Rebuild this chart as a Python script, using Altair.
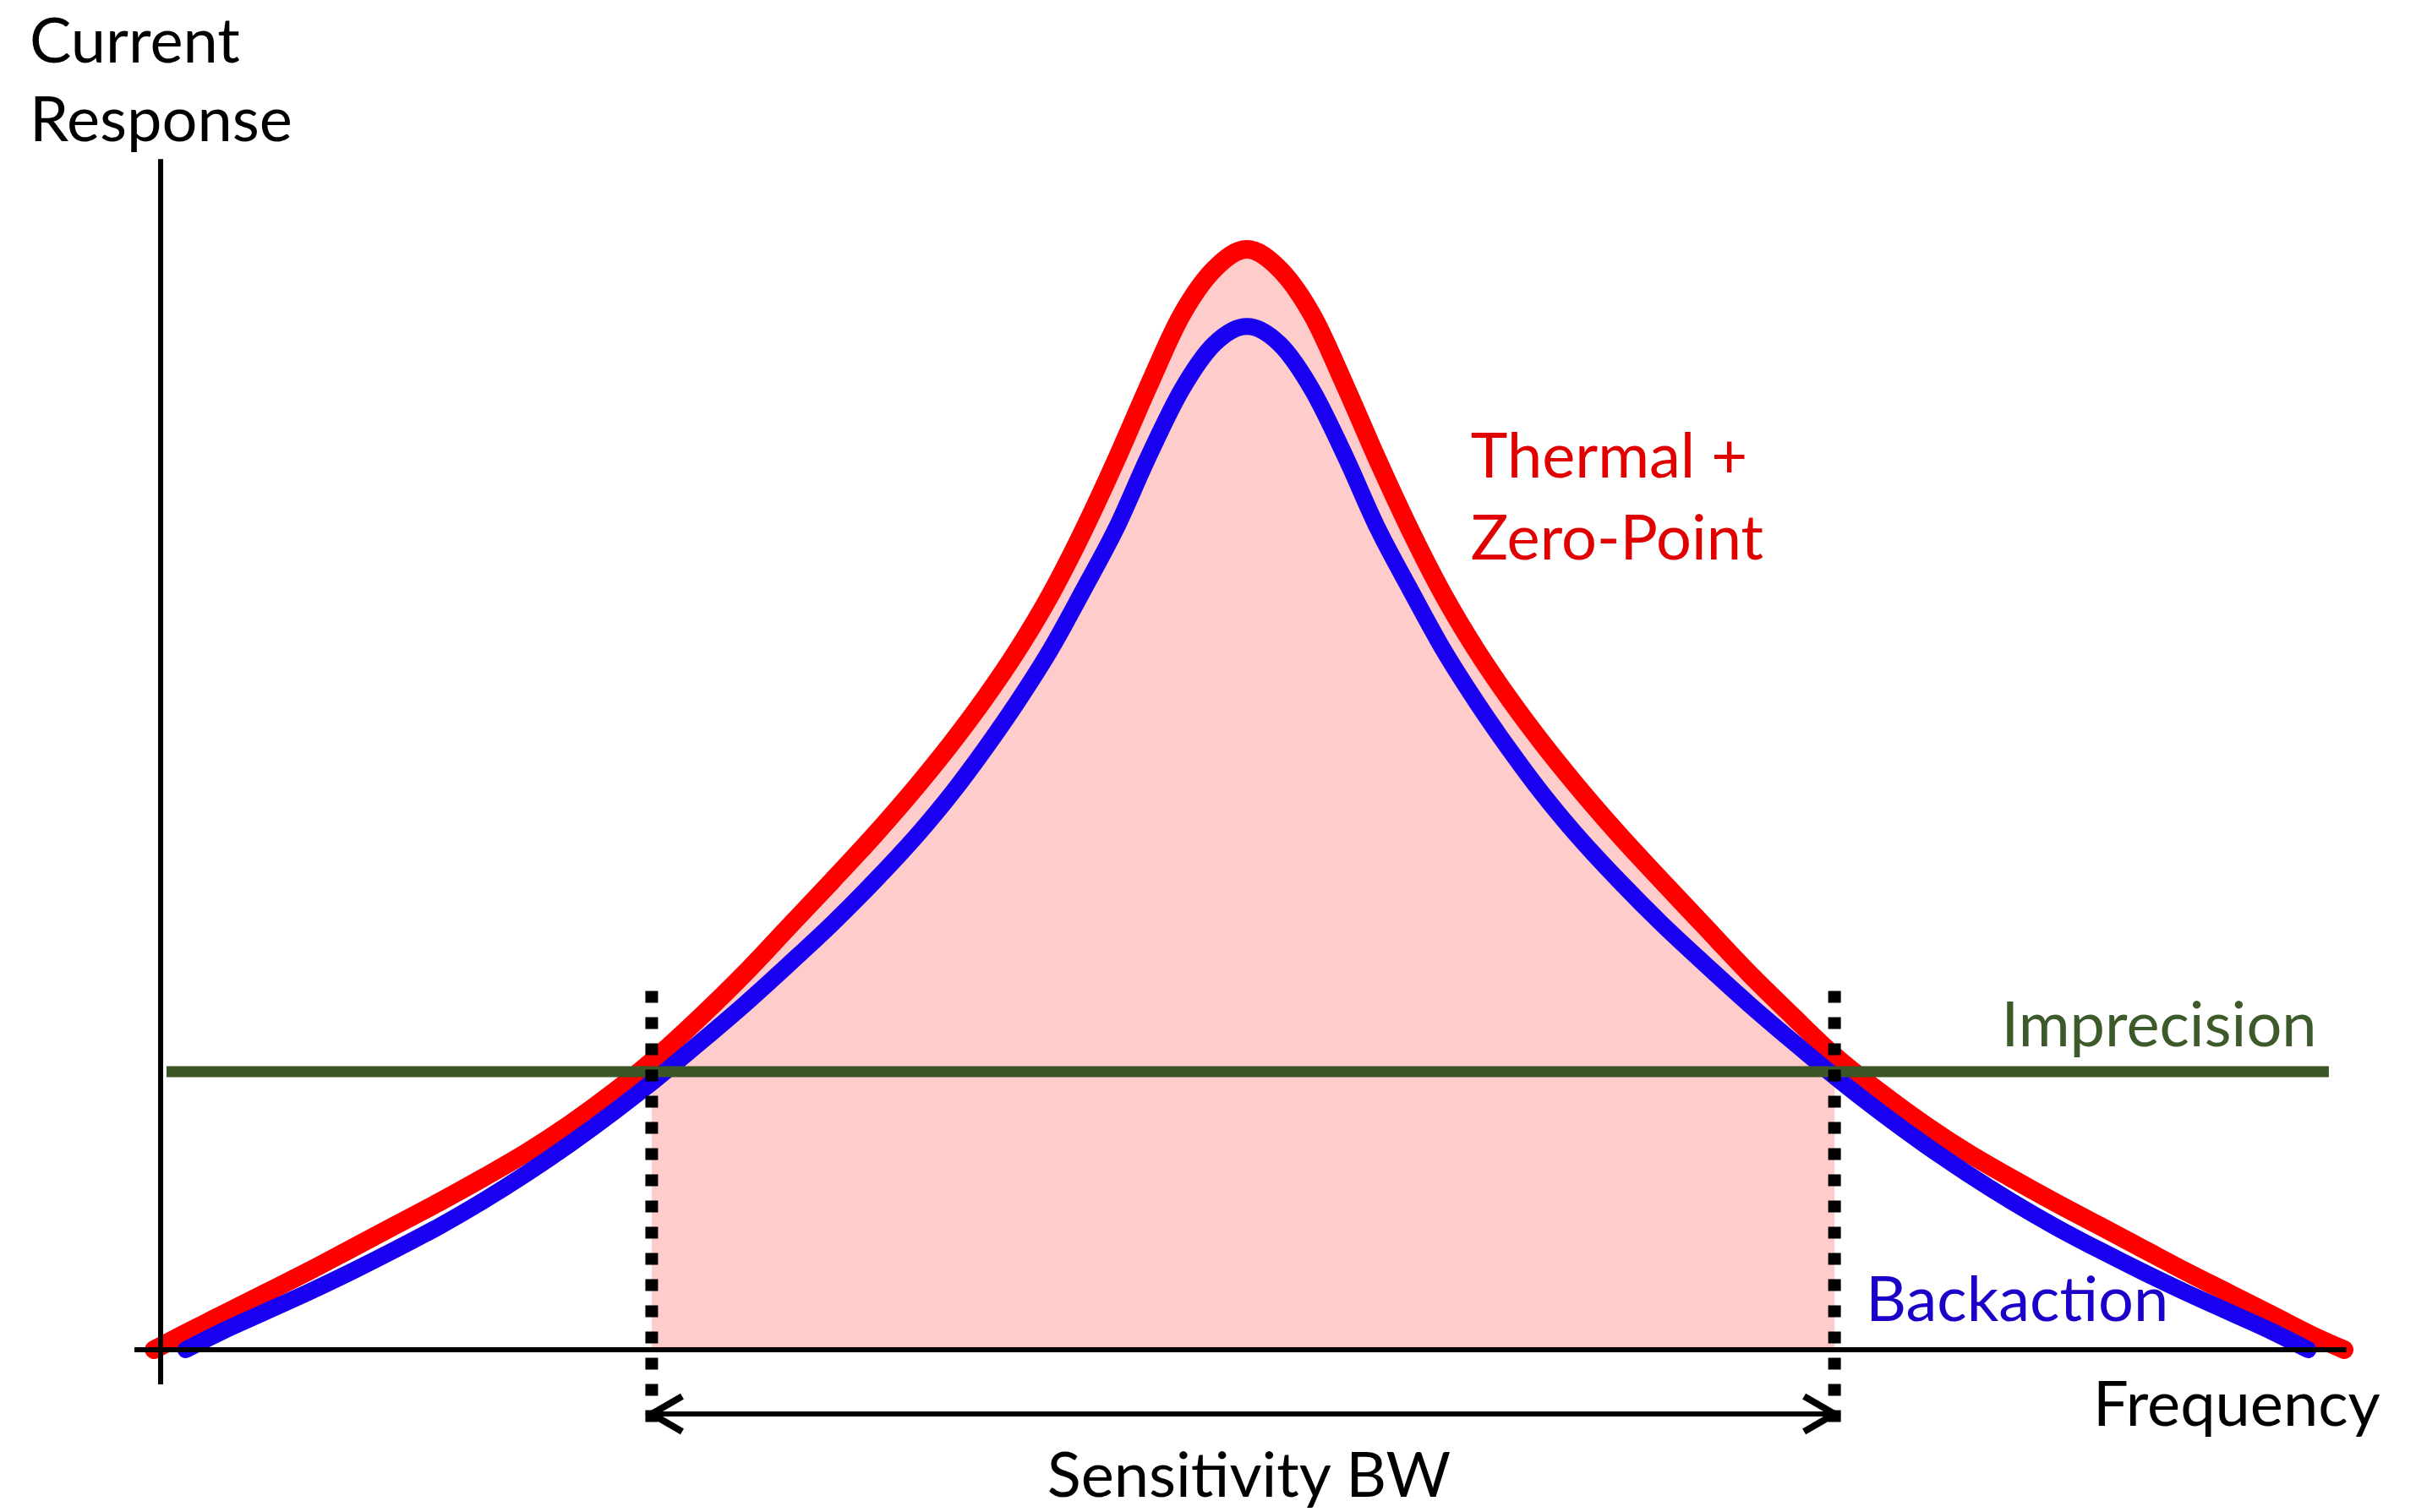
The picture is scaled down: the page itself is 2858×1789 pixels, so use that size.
import altair as alt
import pandas as pd

# Thermal + zero-point response (red); frequency in arbitrary units, response scaled to peak = 100
red_freq = [-0.30, 0.75, 2.75, 4.75, 6.75, 8.75, 10.75, 12.75, 14.75, 16.75, 18.75, 20.75,
            22.49, 24.75, 26.75, 28.75, 30.75, 32.75, 34.75, 36.25, 37.75, 39.25, 40.75,
            42.25, 43.75, 45.25, 46.75, 48.25, 49.75,
            51.25, 52.75, 54.25, 55.75, 57.25, 58.75, 60.25, 61.75, 63.25, 64.75, 66.75,
            68.75, 70.75, 72.75, 74.75, 76.66, 78.75, 80.75, 82.75, 84.75, 86.75, 88.75,
            90.75, 92.75, 94.75, 96.75, 98.75, 100.0]
red_resp = [0.0, 1.1, 3.1, 5.1, 7.1, 9.2, 11.3, 13.4, 15.6, 17.9, 20.5, 23.4,
            26.2, 30.3, 34.2, 38.4, 42.6, 46.9, 51.5, 55.2, 59.2, 63.6, 68.6,
            74.4, 80.8, 87.6, 94.0, 98.2, 100.0,
            98.2, 94.0, 87.6, 80.8, 74.4, 68.6, 63.6, 59.2, 55.2, 51.5, 46.9,
            42.6, 38.4, 34.2, 30.3, 26.7, 23.4, 20.5, 17.9, 15.6, 13.4, 11.3,
            9.2, 7.1, 5.1, 3.1, 1.1, 0.0]

# Backaction response (blue)
blue_freq = [1.15, 2.75, 4.75, 6.75, 8.75, 10.75, 12.75, 14.75, 16.75, 18.75, 20.75, 22.75,
             24.75, 26.75, 28.75, 30.75, 32.75, 34.75, 36.25, 37.75, 39.25, 40.75, 42.25,
             43.75, 45.25, 46.75, 48.25, 49.75,
             51.25, 52.75, 54.25, 55.75, 57.25, 58.75, 60.25, 61.75, 63.25, 64.75, 66.75,
             68.75, 70.75, 72.75, 74.75, 76.75, 78.75, 80.75, 82.75, 84.75, 86.75, 88.75,
             90.75, 92.75, 94.75, 96.75, 98.35]
blue_resp = [0.0, 1.6, 3.4, 5.2, 7.1, 9.1, 11.2, 13.5, 16.0, 18.7, 21.6, 24.7,
             28.0, 31.4, 35.0, 38.7, 42.7, 47.0, 50.6, 54.6, 58.9, 63.6, 69.0,
             74.6, 81.2, 87.2, 91.4, 93.0,
             91.4, 87.2, 81.2, 74.6, 69.0, 63.6, 58.9, 54.6, 50.6, 47.0, 42.7,
             38.7, 35.0, 31.4, 28.0, 24.7, 21.6, 18.7, 16.0, 13.5, 11.2, 9.1,
             7.1, 5.2, 3.4, 1.6, 0.0]

# Imprecision noise floor and the sensitivity bandwidth edges
IMPRECISION = 25.27
IMPRECISION_SPAN = [0.27, 99.3]
BW_LOW, BW_HIGH = 22.49, 76.66
BW_MARK_SPAN = [32.6, -6.8]
BW_ARROW_LEVEL = -5.84

# Axis extents
X_AXIS_SPAN = [-1.2, 100.1]
Y_AXIS_SPAN = [-3.15, 108.2]

# Visible window of the diagram
X_DOMAIN = [-7.356, 103.29]
Y_DOMAIN = [-14.75, 122.66]

# Annotation texts
labels = [
    ("Current", -6.0, 117.0, "#000000"),
    ("Response", -6.0, 109.8, "#000000"),
    ("Thermal +", 60.0, 79.3, "#e00000"),
    ("Zero-Point", 60.0, 71.8, "#e00000"),
    ("Imprecision", 84.3, 27.6, "#3d5a2a"),
    ("Backaction", 78.1, 2.6, "#1a00c8"),
    ("Frequency", 88.5, -6.9, "#000000"),
    ("Sensitivity BW", 40.6, -13.4, "#000000"),
]

W, H = 2858, 1789
FONT = "Lato"
FONT_SIZE = 74

xs = alt.Scale(domain=X_DOMAIN, nice=False, zero=False)
ys = alt.Scale(domain=Y_DOMAIN, nice=False, zero=False)

red = pd.DataFrame({"f": red_freq, "r": red_resp})
blue = pd.DataFrame({"f": blue_freq, "r": blue_resp})
band = red[(red["f"] >= BW_LOW) & (red["f"] <= BW_HIGH)]


def X():
    return alt.X("f:Q", scale=xs, axis=None)


def Y():
    return alt.Y("r:Q", scale=ys, axis=None)


# Shaded sensitivity band under the total response
area = alt.Chart(band).mark_area(color="#ffcccc", interpolate="monotone", opacity=1).encode(
    x=X(), y=Y(), y2=alt.datum(0)
)

red_line = alt.Chart(red).mark_line(
    color="#ff0000", strokeWidth=22, interpolate="monotone", strokeCap="round", strokeJoin="round"
).encode(x=X(), y=Y())

blue_line = alt.Chart(blue).mark_line(
    color="#1a00f0", strokeWidth=20, interpolate="monotone", strokeCap="round", strokeJoin="round"
).encode(x=X(), y=Y())

imprecision = alt.Chart(pd.DataFrame({"f": [IMPRECISION_SPAN[0]], "f2": [IMPRECISION_SPAN[1]],
                                      "r": [IMPRECISION]})).mark_rule(
    color="#3b5626", strokeWidth=13
).encode(x=X(), x2="f2:Q", y=Y())

bw_edges = alt.Chart(pd.DataFrame({"f": [BW_LOW, BW_HIGH], "r": [BW_MARK_SPAN[0]] * 2,
                                   "r2": [BW_MARK_SPAN[1]] * 2})).mark_rule(
    color="black", strokeWidth=15, strokeDash=[14, 17], strokeCap="butt"
).encode(x=X(), y=Y(), y2="r2:Q")

axes = alt.Chart(pd.DataFrame({
    "f": [X_AXIS_SPAN[0], 0.0], "f2": [X_AXIS_SPAN[1], 0.0],
    "r": [0.0, Y_AXIS_SPAN[0]], "r2": [0.0, Y_AXIS_SPAN[1]],
})).mark_rule(color="black", strokeWidth=6).encode(x=X(), x2="f2:Q", y=Y(), y2="r2:Q")

arrow_shaft = alt.Chart(pd.DataFrame({"f": [BW_LOW], "f2": [BW_HIGH], "r": [BW_ARROW_LEVEL]})).mark_rule(
    color="black", strokeWidth=6
).encode(x=X(), x2="f2:Q", y=Y())

head_right = alt.Chart(pd.DataFrame({"f": [BW_HIGH], "r": [BW_ARROW_LEVEL]})).mark_point(
    shape="M-1,-0.58L0,0L-1,0.58", size=5184, filled=False, stroke="black",
    strokeWidth=8, opacity=1, strokeJoin="miter"
).encode(x=X(), y=Y())

head_left = alt.Chart(pd.DataFrame({"f": [BW_LOW], "r": [BW_ARROW_LEVEL]})).mark_point(
    shape="M1,-0.58L0,0L1,0.58", size=5184, filled=False, stroke="black",
    strokeWidth=8, opacity=1, strokeJoin="miter"
).encode(x=X(), y=Y())

text_df = pd.DataFrame(labels, columns=["text", "f", "r", "color"])
texts = alt.Chart(text_df).mark_text(
    align="left", baseline="alphabetic", font=FONT, fontSize=FONT_SIZE
).encode(x=X(), y=Y(), text="text:N", color=alt.Color("color:N", scale=None))

chart = alt.layer(
    area, red_line, blue_line, imprecision, bw_edges, axes, arrow_shaft, head_left, head_right, texts
).properties(
    width=W, height=H, padding=0, autosize=alt.AutoSizeParams(type="none"), background="white"
).configure_view(stroke=None)

chart.save("out.html", embed_options={"renderer": "svg", "actions": False})
